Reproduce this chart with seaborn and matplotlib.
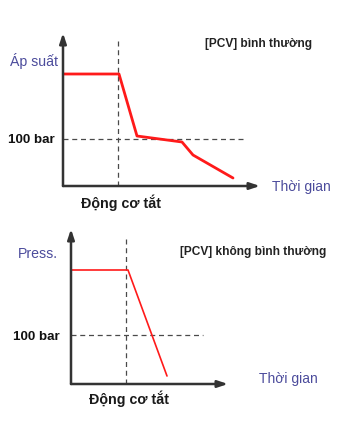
import seaborn as sns
import matplotlib.pyplot as plt

sns.set_style("white")
plt.rcParams['font.family'] = ['Liberation Sans', 'DejaVu Sans']

# Top chart: normal PCV (time / pressure in arbitrary units)
normal_time = [0, 56, 74, 119, 130, 170]
normal_press = [112, 112, 50, 44, 31, 8]
normal_off = 55
normal_100bar = 47

# Bottom chart: abnormal PCV
abnormal_time = [0, 57, 96]
abnormal_press = [114, 114, 8]
abnormal_off = 55
abnormal_100bar = 49

W, H = 352, 448
BLUE = "#4c4c9c"
AXC = "#333333"
DASH = "#4a4a4a"

fig = plt.figure(figsize=(W / 100, H / 100), dpi=100)


def make_panel(rect_px, xlim, ylim, t, p, t_off, p100, lw, vtop, hright):
    x0, y0, x1, y1 = rect_px  # origin (x0,y0) bottom-left, (x1,y1) arrow tips
    ax = fig.add_axes([x0 / W, 1 - y0 / H, (x1 - x0) / W, (y0 - y1) / H])
    ax.set_xlim(*xlim)
    ax.set_ylim(*ylim)
    for s in ax.spines.values():
        s.set_visible(False)
    ax.set_xticks([])
    ax.set_yticks([])
    ax.patch.set_alpha(0)
    ax.axvline(t_off, ymin=0, ymax=vtop, color=DASH, lw=0.9, ls=(0, (4, 3)))
    ax.axhline(p100, xmin=0, xmax=hright, color=DASH, lw=0.9, ls=(0, (4, 3)))
    sns.lineplot(x=t, y=p, ax=ax, color="#ff1a1a", lw=lw, sort=False)
    arrow = dict(arrowstyle="-|>,head_length=0.6,head_width=0.2", color=AXC, lw=1.8,
                 shrinkA=0, shrinkB=0)
    ax.annotate("", xy=(1, 0), xytext=(0, 0), xycoords="axes fraction",
                arrowprops=arrow)
    ax.annotate("", xy=(0, 1), xytext=(0, 0), xycoords="axes fraction",
                arrowprops=arrow)
    return ax


make_panel((63, 186, 260, 33), (0, 197), (0, 153), normal_time, normal_press,
           normal_off, normal_100bar, 2.0, 0.954, 0.924)
make_panel((71, 384, 228, 229), (0, 157), (0, 155), abnormal_time, abnormal_press,
           abnormal_off, abnormal_100bar, 1.2, 0.948, 0.84)


def txt(x, y, s, **kw):
    fig.text(x / W, 1 - y / H, s, va="center", **kw)


# top labels
txt(10, 61, "Áp suất", fontsize=10.2, color=BLUE)
txt(205, 44, "[PCV] bình thường", fontsize=8.6, fontweight="bold", color="#222222")
txt(8, 140, "100 bar", fontsize=9.6, fontweight="bold", color="#111111")
txt(272, 187, "Thời gian", fontsize=10, color=BLUE)
txt(81, 203, "Động cơ tắt", fontsize=10.3, fontweight="bold", color="#1a1a1a")

# bottom labels
txt(18, 254, "Press.", fontsize=10.2, color=BLUE)
txt(180, 252, "[PCV] không bình thường", fontsize=8.6, fontweight="bold", color="#222222")
txt(13, 337, "100 bar", fontsize=9.6, fontweight="bold", color="#111111")
txt(259, 379, "Thời gian", fontsize=10, color=BLUE)
txt(89, 399, "Động cơ tắt", fontsize=10.3, fontweight="bold", color="#1a1a1a")

fig.savefig("out.png", dpi=100)
